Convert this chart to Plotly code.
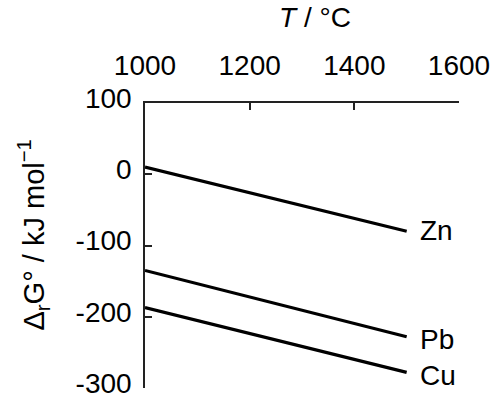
import plotly.graph_objects as go

# Data
temps = [1000, 1500]
zn_vals = [10, -80]
pb_vals = [-135, -228]
cu_vals = [-187, -278]
series_names = ["Zn", "Pb", "Cu"]

x_ticks = [1000, 1200, 1400, 1600]
x_ticktext = ["1000", "1200", "1400", "1600"]
y_ticks = [100, 0, -100, -200, -300]
y_ticktext = ["100", "0", "-100", "-200", "-300"]

FONT = "Liberation Sans, Arial, Helvetica, sans-serif"
FS = 28
fig = go.Figure()
for name, vals in zip(series_names, [zn_vals, pb_vals, cu_vals]):
    fig.add_trace(go.Scatter(x=temps, y=vals, mode="lines",
                             line=dict(color="black", width=3.2),
                             showlegend=False, name=name))
    fig.add_annotation(x=temps[-1], y=vals[-1], text=name, showarrow=False,
                       xanchor="left", yanchor="middle", xshift=11,
                       yshift=-3 if name != "Zn" else 1,
                       font=dict(family=FONT, size=FS, color="black"))

fig.add_annotation(xref="paper", yref="paper", x=0.54, y=1.0, yshift=86,
                   text="<i>T</i> / °C", showarrow=False, xanchor="center", yanchor="middle",
                   font=dict(family=FONT, size=FS, color="black"))
fig.add_annotation(xref="paper", yref="paper", x=0, xshift=-112, y=0.535,
                   text="Δ<sub>r</sub>G° / kJ mol<sup>−1</sup>", textangle=-90,
                   showarrow=False, xanchor="center", yanchor="middle",
                   font=dict(family=FONT, size=29, color="black"))

fig.update_layout(
    width=493, height=399,
    margin=dict(l=145, r=34, t=103, b=11, autoexpand=False),
    plot_bgcolor="white", paper_bgcolor="white",
    xaxis=dict(range=[1000, 1600], side="top", tickvals=x_ticks, ticktext=x_ticktext,
               showline=True, linecolor="#222", linewidth=1.5, ticks="inside",
               ticklen=7, tickwidth=1.5, tickcolor="#222", showgrid=False, zeroline=False,
               ticklabelstandoff=15, ticklabeloverflow="allow", automargin=False,
               tickfont=dict(family=FONT, size=FS, color="black")),
    yaxis=dict(range=[-300, 100], tickvals=y_ticks, ticktext=y_ticktext,
               showline=True, linecolor="#222", linewidth=1.5, ticks="inside",
               ticklen=7, tickwidth=1.5, tickcolor="#222", showgrid=False, zeroline=False,
               ticklabelstandoff=6, ticklabelshift=-5, ticklabeloverflow="allow",
               automargin=False,
               tickfont=dict(family=FONT, size=FS, color="black")),
)
fig.write_html(
    "out.html", config={"displayModeBar": False},
    post_script=(
        "document.documentElement.style.overflow='hidden';"
        "document.body.style.margin='0';document.body.style.overflow='hidden';"
        "var d=document.querySelector('.plotly-graph-div');"
        "if(d){d.style.overflow='hidden';}"
    ),
)
